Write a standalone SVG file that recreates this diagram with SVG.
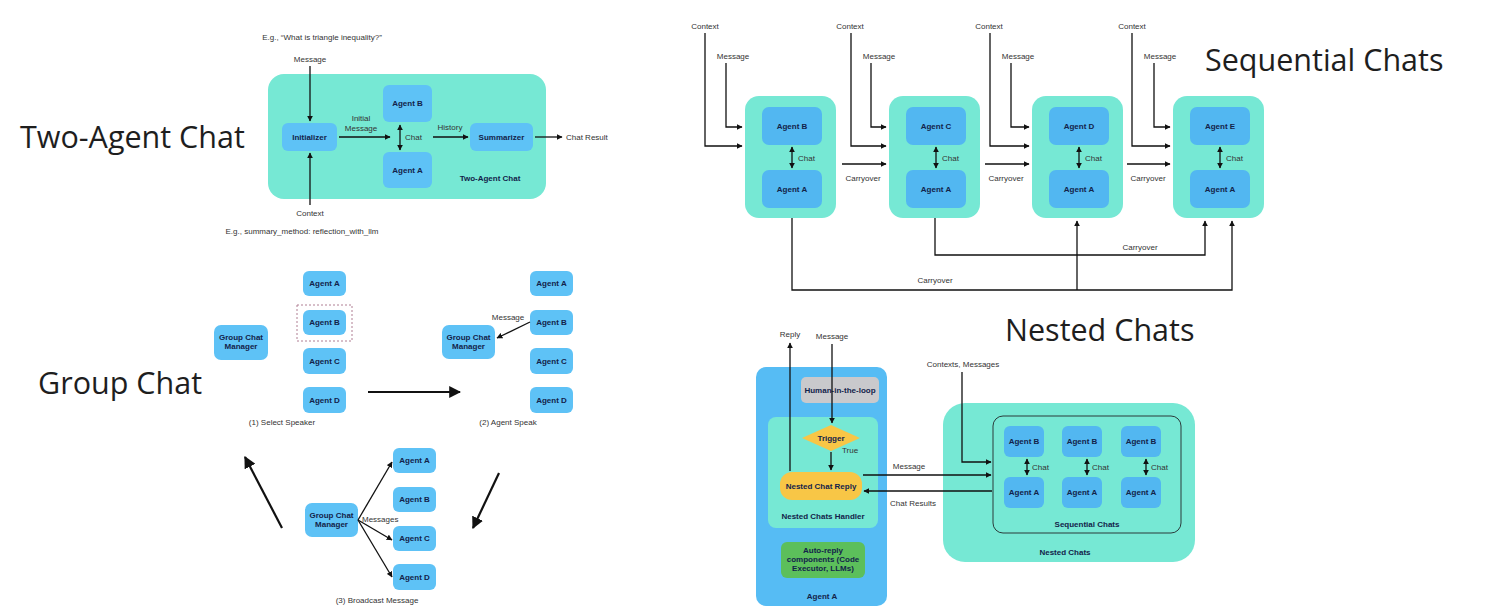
<svg xmlns="http://www.w3.org/2000/svg" width="1500" height="615" viewBox="0 0 1500 615">
<defs>
<marker id="ah" viewBox="0 0 10 10" refX="9" refY="5" markerWidth="6" markerHeight="6" markerUnits="userSpaceOnUse" orient="auto-start-reverse"><path d="M0,0 L10,5 L0,10 z" fill="#111"/></marker>
<marker id="big" viewBox="0 0 10 10" refX="9" refY="5" markerWidth="12" markerHeight="12" markerUnits="userSpaceOnUse" orient="auto"><path d="M0,0 L10,5 L0,10 z" fill="#111"/></marker>
<style>
.teal{fill:#76e8d4}
.agent{fill:#5ec2f6}
.agent2{fill:#52b7f1}
.lbl{font-family:"Liberation Sans",Arial,sans-serif;font-size:8px;fill:#333;text-anchor:middle}
.st{text-anchor:start}
.b{font-family:"Liberation Sans",Arial,sans-serif;font-size:8px;font-weight:bold;fill:#13234a;text-anchor:middle}
.big{font-family:"Open Sans","Noto Sans",sans-serif;font-size:30.5px;fill:#1e1e1e}
.ln{stroke:#111;stroke-width:1.3;fill:none}
.thick{stroke:#111;stroke-width:2.2;fill:none}
</style>
</defs>
<rect width="1500" height="615" fill="#fff"/>

<!-- Big titles -->
<text class="big" x="20" y="148" font-size="31.5">Two-Agent Chat</text>
<text class="big" x="38" y="394">Group Chat</text>
<text class="big" x="1205" y="71">Sequential Chats</text>
<text class="big" x="1005" y="341">Nested Chats</text>

<!-- Two-Agent Chat -->
<g id="two-agent-chat">
<rect class="teal" x="268" y="74" width="278" height="125" rx="16"/>
<text class="b" x="490" y="181">Two-Agent Chat</text>
</g>
<g id="ta-initializer"><rect class="agent" x="282" y="123" width="55" height="28" rx="6"/><text class="b" x="309.5" y="140">Initializer</text></g>
<g id="ta-agentB"><rect class="agent" x="383" y="85" width="49" height="37" rx="6"/><text class="b" x="407.5" y="106">Agent B</text></g>
<g id="ta-agentA"><rect class="agent" x="383" y="152" width="49" height="36" rx="6"/><text class="b" x="407.5" y="173">Agent A</text></g>
<g id="ta-summarizer"><rect class="agent" x="470" y="123" width="63" height="28" rx="6"/><text class="b" x="501.5" y="140">Summarizer</text></g>
<g id="ta-texts">
<text class="lbl" x="322" y="40">E.g., “What is triangle inequality?”</text>
<text class="lbl" x="310" y="62">Message</text>
<text class="lbl" x="361" y="121">Initial</text>
<text class="lbl" x="361" y="131">Message</text>
<text class="lbl st" x="405" y="140">Chat</text>
<text class="lbl" x="450" y="130">History</text>
<text class="lbl st" x="566" y="140">Chat Result</text>
<text class="lbl" x="310" y="216">Context</text>
<text class="lbl" x="302" y="234">E.g., summary_method: reflection_with_llm</text>
</g>

<!-- Group Chat -->
<g id="gc1-manager"><rect class="agent" x="214" y="325" width="54" height="35" rx="7"/><text class="b" x="241" y="340" font-size="7">Group Chat</text><text class="b" x="241" y="349" font-size="7">Manager</text></g>
<g id="gc1-agents">
<rect class="agent" x="303" y="271" width="43" height="25" rx="6"/><text class="b" x="324.5" y="286" font-size="7">Agent A</text>
<rect x="297" y="305" width="55" height="36" fill="none" stroke="#b07f93" stroke-width="1" stroke-dasharray="2,2"/>
<rect class="agent" x="303" y="310" width="43" height="25" rx="6"/><text class="b" x="324.5" y="325" font-size="7">Agent B</text>
<rect class="agent" x="303" y="348" width="43" height="26" rx="6"/><text class="b" x="324.5" y="364" font-size="7">Agent C</text>
<rect class="agent" x="303" y="387" width="43" height="26" rx="6"/><text class="b" x="324.5" y="403" font-size="7">Agent D</text>
<text class="lbl" x="282" y="425" font-size="7">(1) Select Speaker</text>
</g>
<g id="gc2-manager"><rect class="agent" x="442" y="325" width="53" height="34" rx="7"/><text class="b" x="468.5" y="340" font-size="7">Group Chat</text><text class="b" x="468.5" y="349" font-size="7">Manager</text></g>
<g id="gc2-agents">
<rect class="agent" x="530" y="271" width="43" height="25" rx="6"/><text class="b" x="551.5" y="286" font-size="7">Agent A</text>
<rect class="agent" x="530" y="310" width="43" height="25" rx="6"/><text class="b" x="551.5" y="325" font-size="7">Agent B</text>
<rect class="agent" x="530" y="348" width="43" height="26" rx="6"/><text class="b" x="551.5" y="364" font-size="7">Agent C</text>
<rect class="agent" x="530" y="387" width="43" height="26" rx="6"/><text class="b" x="551.5" y="403" font-size="7">Agent D</text>
<text class="lbl" x="508" y="320" font-size="7">Message</text>
<text class="lbl" x="508" y="425" font-size="7">(2) Agent Speak</text>
</g>
<g id="gc3-manager"><rect class="agent" x="305" y="503" width="53" height="34" rx="7"/><text class="b" x="331.5" y="518" font-size="7">Group Chat</text><text class="b" x="331.5" y="527" font-size="7">Manager</text></g>
<g id="gc3-agents">
<rect class="agent" x="393" y="448" width="43" height="25" rx="6"/><text class="b" x="414.5" y="463" font-size="7">Agent A</text>
<rect class="agent" x="393" y="487" width="43" height="25" rx="6"/><text class="b" x="414.5" y="502" font-size="7">Agent B</text>
<rect class="agent" x="393" y="526" width="43" height="25" rx="6"/><text class="b" x="414.5" y="541" font-size="7">Agent C</text>
<rect class="agent" x="393" y="564" width="43" height="26" rx="6"/><text class="b" x="414.5" y="580" font-size="7">Agent D</text>
<text class="lbl st" x="362" y="522" font-size="7">Messages</text>
<text class="lbl" x="377" y="603" font-size="7">(3) Broadcast Message</text>
</g>

<!-- Sequential Chats -->
<g id="seq-chat1">
<rect class="teal" x="745" y="96" width="91" height="122" rx="14"/>
<rect class="agent2" x="762" y="107" width="60" height="38" rx="7"/><text class="b" x="792" y="129">Agent B</text>
<rect class="agent2" x="762" y="170" width="60" height="38" rx="7"/><text class="b" x="792" y="192">Agent A</text>
<text class="lbl st" x="798" y="161">Chat</text>
</g>
<g id="seq-chat2">
<rect class="teal" x="889" y="96" width="91" height="122" rx="14"/>
<rect class="agent2" x="906" y="107" width="60" height="38" rx="7"/><text class="b" x="936" y="129">Agent C</text>
<rect class="agent2" x="906" y="170" width="60" height="38" rx="7"/><text class="b" x="936" y="192">Agent A</text>
<text class="lbl st" x="942" y="161">Chat</text>
</g>
<g id="seq-chat3">
<rect class="teal" x="1032" y="96" width="91" height="122" rx="14"/>
<rect class="agent2" x="1049" y="107" width="60" height="38" rx="7"/><text class="b" x="1079" y="129">Agent D</text>
<rect class="agent2" x="1049" y="170" width="60" height="38" rx="7"/><text class="b" x="1079" y="192">Agent A</text>
<text class="lbl st" x="1085" y="161">Chat</text>
</g>
<g id="seq-chat4">
<rect class="teal" x="1173" y="96" width="91" height="122" rx="14"/>
<rect class="agent2" x="1190" y="107" width="60" height="38" rx="7"/><text class="b" x="1220" y="129">Agent E</text>
<rect class="agent2" x="1190" y="170" width="60" height="38" rx="7"/><text class="b" x="1220" y="192">Agent A</text>
<text class="lbl st" x="1226" y="161">Chat</text>
</g>
<g id="seq-texts">
<text class="lbl" x="705" y="29">Context</text><text class="lbl" x="733" y="59">Message</text>
<text class="lbl" x="850" y="29">Context</text><text class="lbl" x="879" y="59">Message</text>
<text class="lbl" x="989" y="29">Context</text><text class="lbl" x="1018" y="59">Message</text>
<text class="lbl" x="1132" y="29">Context</text><text class="lbl" x="1160" y="59">Message</text>
<text class="lbl" x="863" y="181">Carryover</text>
<text class="lbl" x="1006" y="181">Carryover</text>
<text class="lbl" x="1148" y="181">Carryover</text>
<text class="lbl" x="1140" y="250">Carryover</text>
<text class="lbl" x="935" y="283">Carryover</text>
</g>

<!-- Nested Chats -->
<g id="nested-agentA">
<rect x="756" y="367" width="131" height="239" rx="10" fill="#56bcf4"/>
<text class="b" x="822" y="599">Agent A</text>
</g>
<g id="nested-human"><rect x="801" y="377" width="78" height="26" rx="5" fill="#c9c9cc"/><text class="b" x="840" y="393" font-size="7">Human-in-the-loop</text></g>
<g id="nested-handler"><rect class="teal" x="768" y="417" width="110" height="111" rx="8"/><text class="b" x="823" y="519" font-size="7.5">Nested Chats Handler</text></g>
<g id="nested-trigger"><polygon points="831,425 860,438 831,451 802,438" fill="#f8c646"/><text class="b" x="831" y="441" font-size="7">Trigger</text><text class="lbl st" x="842" y="453" font-size="7">True</text></g>
<g id="nested-reply"><rect x="780" y="472" width="82" height="28" rx="12" fill="#f8c646"/><text class="b" x="821" y="489" font-size="7.5">Nested Chat Reply</text></g>
<g id="nested-auto"><rect x="781" y="542" width="84" height="36" rx="6" fill="#5cbf5b"/><text class="b" x="823" y="553" font-size="7">Auto-reply</text><text class="b" x="823" y="562" font-size="7">components (Code</text><text class="b" x="823" y="571" font-size="7">Executor, LLMs)</text></g>
<g id="nested-chats">
<rect class="teal" x="943" y="403" width="252" height="159" rx="22"/>
<rect x="993" y="416" width="188" height="117" rx="10" fill="none" stroke="#2b3b3b" stroke-width="1"/>
<text class="b" x="1087" y="527" font-size="7.5">Sequential Chats</text>
<text class="b" x="1065" y="555" font-size="7.5">Nested Chats</text>
</g>
<g id="nested-agents">
<rect class="agent2" x="1004" y="426" width="40" height="31" rx="6"/><text class="b" x="1024" y="444" font-size="7">Agent B</text>
<rect class="agent2" x="1062" y="426" width="40" height="31" rx="6"/><text class="b" x="1082" y="444" font-size="7">Agent B</text>
<rect class="agent2" x="1121" y="426" width="40" height="31" rx="6"/><text class="b" x="1141" y="444" font-size="7">Agent B</text>
<rect class="agent2" x="1004" y="477" width="40" height="31" rx="6"/><text class="b" x="1024" y="495" font-size="7">Agent A</text>
<rect class="agent2" x="1062" y="477" width="40" height="31" rx="6"/><text class="b" x="1082" y="495" font-size="7">Agent A</text>
<rect class="agent2" x="1121" y="477" width="40" height="31" rx="6"/><text class="b" x="1141" y="495" font-size="7">Agent A</text>
<text class="lbl st" x="1032" y="470" font-size="7">Chat</text>
<text class="lbl st" x="1092" y="470" font-size="7">Chat</text>
<text class="lbl st" x="1151" y="470" font-size="7">Chat</text>
</g>
<g id="nested-texts">
<text class="lbl" x="790" y="337" font-size="7">Reply</text>
<text class="lbl" x="832" y="339" font-size="7">Message</text>
<text class="lbl" x="909" y="469" font-size="7">Message</text>
<text class="lbl" x="913" y="506" font-size="7">Chat Results</text>
<text class="lbl" x="963" y="367" font-size="7">Contexts, Messages</text>
</g>

<!-- Connectors -->
<g id="connectors">
<line class="ln" x1="310" y1="66" x2="310" y2="121" marker-end="url(#ah)"/>
<line class="ln" x1="310" y1="205" x2="310" y2="153" marker-end="url(#ah)"/>
<line class="ln" x1="339" y1="137" x2="390" y2="137" marker-end="url(#ah)"/>
<line class="ln" x1="400" y1="125" x2="400" y2="150" marker-start="url(#ah)" marker-end="url(#ah)"/>
<line class="ln" x1="433" y1="137" x2="468" y2="137" marker-end="url(#ah)"/>
<line class="ln" x1="535" y1="137" x2="562" y2="137" marker-end="url(#ah)"/>
<line class="thick" x1="368" y1="392" x2="460" y2="392" marker-end="url(#big)"/>
<line class="ln" x1="530" y1="322" x2="497" y2="338" marker-end="url(#ah)"/>
<line class="thick" x1="282" y1="528" x2="245" y2="457" marker-end="url(#big)"/>
<line class="thick" x1="499" y1="473" x2="473" y2="528" marker-end="url(#big)"/>
<line class="ln" x1="358" y1="520" x2="392" y2="462" marker-end="url(#ah)"/>
<line class="ln" x1="358" y1="520" x2="392" y2="540" marker-end="url(#ah)"/>
<line class="ln" x1="358" y1="520" x2="392" y2="577" marker-end="url(#ah)"/>
<path class="ln" d="M705,33 V146 H742" marker-end="url(#ah)"/>
<path class="ln" d="M726,63 V127 H742" marker-end="url(#ah)"/>
<path class="ln" d="M851,33 V146 H886" marker-end="url(#ah)"/>
<path class="ln" d="M871,63 V127 H886" marker-end="url(#ah)"/>
<path class="ln" d="M990,33 V146 H1029" marker-end="url(#ah)"/>
<path class="ln" d="M1011,63 V127 H1029" marker-end="url(#ah)"/>
<path class="ln" d="M1132,33 V146 H1170" marker-end="url(#ah)"/>
<path class="ln" d="M1154,63 V127 H1170" marker-end="url(#ah)"/>
<line class="ln" x1="842" y1="164" x2="886" y2="164" marker-end="url(#ah)"/>
<line class="ln" x1="985" y1="164" x2="1029" y2="164" marker-end="url(#ah)"/>
<line class="ln" x1="1127" y1="164" x2="1170" y2="164" marker-end="url(#ah)"/>
<line class="ln" x1="792" y1="147" x2="792" y2="168" marker-start="url(#ah)" marker-end="url(#ah)"/>
<line class="ln" x1="936" y1="147" x2="936" y2="168" marker-start="url(#ah)" marker-end="url(#ah)"/>
<line class="ln" x1="1079" y1="147" x2="1079" y2="168" marker-start="url(#ah)" marker-end="url(#ah)"/>
<line class="ln" x1="1220" y1="147" x2="1220" y2="168" marker-start="url(#ah)" marker-end="url(#ah)"/>
<path class="ln" d="M792,218 V290 H1232 V221" marker-end="url(#ah)"/>
<path class="ln" d="M1077,290 V221" marker-end="url(#ah)"/>
<path class="ln" d="M935,218 V255 H1205 V221" marker-end="url(#ah)"/>
<line class="ln" x1="790" y1="471" x2="790" y2="343" marker-end="url(#ah)"/>
<line class="ln" x1="832" y1="344" x2="832" y2="423" marker-end="url(#ah)"/>
<line class="ln" x1="831" y1="452" x2="831" y2="470" marker-end="url(#ah)"/>
<line class="ln" x1="863" y1="475" x2="991" y2="475" marker-end="url(#ah)"/>
<line class="ln" x1="992" y1="491" x2="864" y2="491" marker-end="url(#ah)"/>
<path class="ln" d="M962,372 V462 H991" marker-end="url(#ah)"/>
<line class="ln" x1="1027" y1="459" x2="1027" y2="475" marker-start="url(#ah)" marker-end="url(#ah)"/>
<line class="ln" x1="1087" y1="459" x2="1087" y2="475" marker-start="url(#ah)" marker-end="url(#ah)"/>
<line class="ln" x1="1146" y1="459" x2="1146" y2="475" marker-start="url(#ah)" marker-end="url(#ah)"/>
</g>
</svg>
